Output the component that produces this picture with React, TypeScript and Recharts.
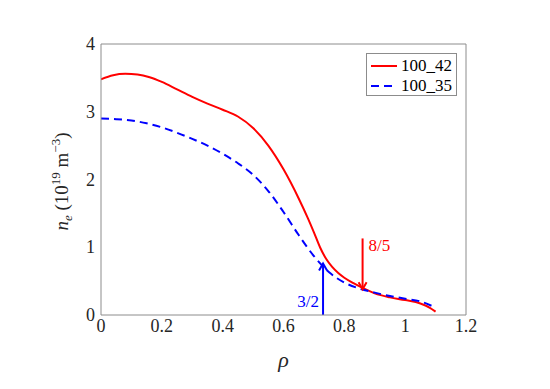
import { LineChart, Line, XAxis, YAxis, ReferenceLine, ReferenceDot } from 'recharts'

const rho42 = [0, 0.04, 0.08, 0.12, 0.16, 0.2, 0.25, 0.3, 0.35, 0.4, 0.45, 0.5, 0.55, 0.6, 0.65, 0.68, 0.7, 0.72, 0.74, 0.76, 0.78, 0.8, 0.83, 0.86, 0.9, 0.95, 1.0, 1.05, 1.08, 1.1]
const ne42 = [3.48, 3.54, 3.56, 3.55, 3.51, 3.44, 3.33, 3.22, 3.12, 3.03, 2.93, 2.76, 2.5, 2.15, 1.72, 1.43, 1.22, 1.0, 0.83, 0.71, 0.62, 0.55, 0.47, 0.4, 0.32, 0.26, 0.22, 0.17, 0.11, 0.05]

const rho35 = [0, 0.05, 0.1, 0.15, 0.2, 0.25, 0.3, 0.35, 0.4, 0.45, 0.5, 0.55, 0.6, 0.65, 0.7, 0.75, 0.8, 0.85, 0.9, 0.95, 1.0, 1.05, 1.09]
const ne35 = [2.9, 2.89, 2.87, 2.83, 2.77, 2.69, 2.6, 2.5, 2.38, 2.24, 2.07, 1.83, 1.52, 1.18, 0.87, 0.63, 0.48, 0.39, 0.33, 0.28, 0.24, 0.2, 0.13]

const xTicks = [0, 0.2, 0.4, 0.6, 0.8, 1, 1.2]
const yTicks = [0, 1, 2, 3, 4]

// q=3/2 arrow points up from the axis, q=8/5 arrow points down onto the curve
const arrow32 = { rho: 0.73, from: 0, to: 0.76, label: '3/2', color: '#0000ff' }
const arrow85 = { rho: 0.86, from: 1.13, to: 0.38, label: '8/5', color: '#ff0000' }

const red = rho42.map((r, i) => ({ rho: r, ne: ne42[i] }))
const blue = rho35.map((r, i) => ({ rho: r, ne: ne35[i] }))

const font = 'Liberation Serif'
const frame = '#8c8c8c'
const ink = '#262626'

function XTick(props: any) {
  const { x, y, payload } = props
  return <text x={x} y={y + 13} textAnchor="middle" fontFamily={font} fontSize={18} fill={ink}>{payload.value}</text>
}

function YTick(props: any) {
  const { x, y, payload } = props
  return <text x={x} y={y + 6} textAnchor="end" fontFamily={font} fontSize={18} fill={ink}>{payload.value}</text>
}

function XLabel(props: any) {
  const { viewBox } = props
  return <text x={viewBox.x + viewBox.width / 2} y={viewBox.y + 52} textAnchor="middle" fontFamily={font} fontStyle="italic" fontSize={22} fill={ink}>ρ</text>
}

function ArrowHead(props: any) {
  const { cx, cy, up, color } = props
  const d = up ? 7 : -7
  return <path d={`M${cx - 4},${cy + d} L${cx},${cy} L${cx + 4},${cy + d}`} stroke={color} strokeWidth={2} fill="none" />
}

function TextMark(props: any) {
  const { cx, cy, text, color, anchor, dx } = props
  return <text x={cx + dx} y={cy + 6} textAnchor={anchor} fontFamily={font} fontSize={17} fill={color}>{text}</text>
}

function YLabel(props: any) {
  const { viewBox } = props
  const cx = viewBox.x - 3
  const cy = viewBox.y + viewBox.height / 2 + 2
  return (
    <text x={cx} y={cy} transform={`rotate(-90 ${cx} ${cy})`} textAnchor="middle" fontFamily={font} fontSize={19} fill={ink}>
      <tspan fontStyle="italic">n</tspan>
      <tspan fontStyle="italic" fontSize={13} dy={4}>e</tspan>
      <tspan dy={-4}>{'  (10'}</tspan>
      <tspan fontSize={13} dy={-8}>19</tspan>
      <tspan dy={8}>{' m'}</tspan>
      <tspan fontSize={13} dy={-8}>{'\u22123'}</tspan>
      <tspan dy={8}>)</tspan>
    </text>
  )
}

export default function App() {
  return (
    <div style={{ position: 'absolute', left: 0, top: 0, width: 550, height: 389, background: '#fff', fontFamily: font }}>
      <LineChart width={550} height={389} margin={{ top: 44, right: 84, bottom: 44, left: 71 }}>
        <XAxis type="number" dataKey="rho" domain={[0, 1.2]} ticks={xTicks} height={30} tickLine={false} tickSize={0} tickMargin={4}
          axisLine={{ stroke: frame }} tick={<XTick />} allowDataOverflow label={<XLabel />} />
        <XAxis xAxisId="bin" type="number" domain={[0, 1.2]} ticks={xTicks} mirror tick={false} axisLine={false} tickSize={5} tickLine={{ stroke: frame }} allowDataOverflow />
        <XAxis xAxisId="top" orientation="top" type="number" domain={[0, 1.2]} ticks={xTicks} mirror tick={false} axisLine={{ stroke: frame }} tickSize={5} tickLine={{ stroke: frame }} allowDataOverflow />
        <YAxis type="number" domain={[0, 4]} ticks={yTicks} width={30} tickLine={false} tickSize={0} tickMargin={6}
          axisLine={{ stroke: frame }} tick={<YTick />} allowDataOverflow label={<YLabel />} />
        <YAxis yAxisId="lin" type="number" domain={[0, 4]} ticks={yTicks} mirror tick={false} axisLine={false} tickSize={5} tickLine={{ stroke: frame }} allowDataOverflow />
        <YAxis yAxisId="r" orientation="right" type="number" domain={[0, 4]} ticks={yTicks} mirror tick={false} axisLine={{ stroke: frame }} tickSize={5} tickLine={{ stroke: frame }} allowDataOverflow />

        <Line data={red} dataKey="ne" type="monotone" stroke="#ff0000" strokeWidth={2} dot={false} isAnimationActive={false} />
        <Line data={blue} dataKey="ne" type="monotone" stroke="#0000ff" strokeWidth={2} strokeDasharray="8 5" dot={false} isAnimationActive={false} />

        <ReferenceLine segment={[{ x: arrow32.rho, y: arrow32.from }, { x: arrow32.rho, y: arrow32.to }]} stroke={arrow32.color} strokeWidth={2} />
        <ReferenceDot x={arrow32.rho} y={arrow32.to} r={0} shape={(p: any) => <ArrowHead {...p} up color={arrow32.color} />} />
        <ReferenceDot x={arrow32.rho} y={0.2} r={0}
          shape={(p: any) => <TextMark {...p} text={arrow32.label} color={arrow32.color} anchor="end" dx={-4} />} />

        <ReferenceLine segment={[{ x: arrow85.rho, y: arrow85.from }, { x: arrow85.rho, y: arrow85.to }]} stroke={arrow85.color} strokeWidth={2} />
        <ReferenceDot x={arrow85.rho} y={arrow85.to} r={0} shape={(p: any) => <ArrowHead {...p} color={arrow85.color} />} />
        <ReferenceDot x={arrow85.rho} y={1.04} r={0}
          shape={(p: any) => <TextMark {...p} text={arrow85.label} color={arrow85.color} anchor="start" dx={6} />} />
      </LineChart>

      <div style={{ position: 'absolute', left: 366, top: 53, width: 91, height: 43, border: `1px solid ${frame}`, background: '#fff', boxSizing: 'border-box', fontFamily: font, fontSize: 17, color: '#000' }}>
        <div style={{ position: 'absolute', left: 4, top: 2, display: 'flex', alignItems: 'center', height: 20 }}>
          <svg width={26} height={4}><line x1={0} y1={2} x2={26} y2={2} stroke="#ff0000" strokeWidth={2} /></svg>
          <span style={{ marginLeft: 4 }}>100_42</span>
        </div>
        <div style={{ position: 'absolute', left: 4, top: 22, display: 'flex', alignItems: 'center', height: 20 }}>
          <svg width={26} height={4}><line x1={0} y1={2} x2={26} y2={2} stroke="#0000ff" strokeWidth={2} strokeDasharray="8 5" /></svg>
          <span style={{ marginLeft: 4 }}>100_35</span>
        </div>
      </div>
    </div>
  )
}
